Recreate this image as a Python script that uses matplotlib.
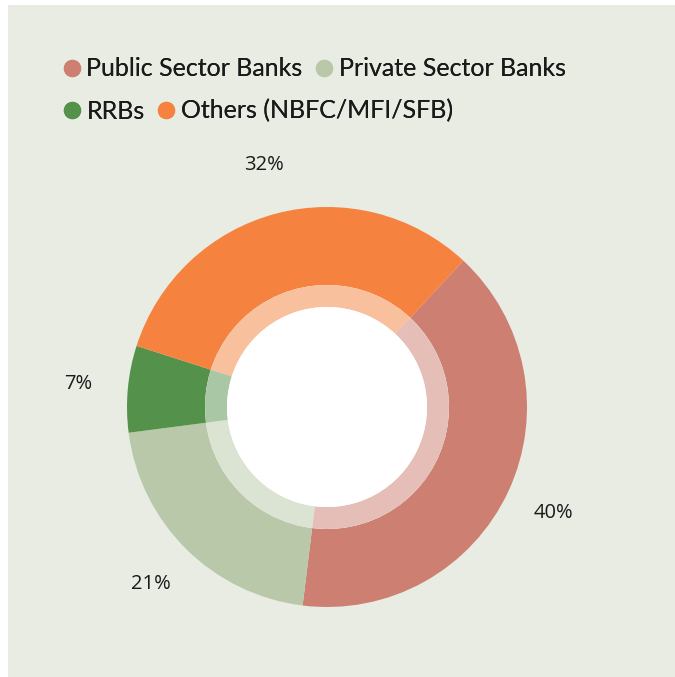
import numpy as np
import matplotlib
matplotlib.use("Agg")
import matplotlib.pyplot as plt
from matplotlib.patches import Rectangle, Circle
from matplotlib.lines import Line2D

# lending share by institution type
categories = ["Public Sector Banks", "Private Sector Banks", "RRBs", "Others (NBFC/MFI/SFB)"]
shares = [40, 21, 7, 32]
colors = ["#CD7F72", "#B8C8A9", "#54914A", "#F5823F"]

bg = "#E8ECE3"
W, H = 675, 677

fig = plt.figure(figsize=(W / 100, H / 100), dpi=100, facecolor="white")
ax = fig.add_axes([0, 0, 1, 1])

# light panel behind everything
ax.add_patch(Rectangle((8, 0), W - 8, H - 5, facecolor=bg, edgecolor="none", zorder=0))

center = (327, H - 407)
r_out, r_mid, r_in = 200, 122, 100
start = 47

wedges, _ = ax.pie(shares, colors=colors, startangle=start, counterclock=False,
                   radius=r_out, center=center,
                   wedgeprops=dict(width=r_out - r_mid, linewidth=0))

# paler inner band, same slices washed out over white
ax.add_patch(Circle(center, r_mid, facecolor="white", edgecolor="none", zorder=1))
inner, _ = ax.pie(shares, colors=colors, startangle=start, counterclock=False,
                  radius=r_mid, center=center,
                  wedgeprops=dict(width=r_mid - r_in, linewidth=0, alpha=0.5))
for w in inner:
    w.set_zorder(2)
ax.add_patch(Circle(center, r_in, facecolor="white", edgecolor="none", zorder=3))

# percentage labels just outside each slice
for w, v in zip(wedges, shares):
    ang = np.deg2rad((w.theta1 + w.theta2) / 2)
    x = center[0] + 1.25 * r_out * np.cos(ang)
    y = center[1] + 1.25 * r_out * np.sin(ang)
    ax.text(x, y, f"{v}%", ha="center", va="center", fontsize=14.5,
            family="Open Sans", color="#1a1a1a")

ax.set_xlim(0, W)
ax.set_ylim(0, H)
ax.set_aspect("equal")
ax.axis("off")

# two-row legend with round markers
handles = [Line2D([], [], linestyle="none", marker="o", markersize=12.5,
                  markerfacecolor=c, markeredgewidth=0) for c in colors]
rows = [(0, 2, 69), (2, 4, 111)]
for a, b, ypix in rows:
    leg = fig.legend(handles[a:b], categories[a:b], ncol=2, frameon=False,
                     loc="center left", bbox_to_anchor=(63 / W, 1 - ypix / H),
                     borderpad=0, borderaxespad=0, handlelength=0.72,
                     handletextpad=0.22, columnspacing=0.5,
                     prop=dict(family="Lato", size=18))
    for t in leg.get_texts():
        t.set_color("#1a1a1a")
    fig.add_artist(leg)

fig.savefig("out.png", dpi=100, facecolor="white")
